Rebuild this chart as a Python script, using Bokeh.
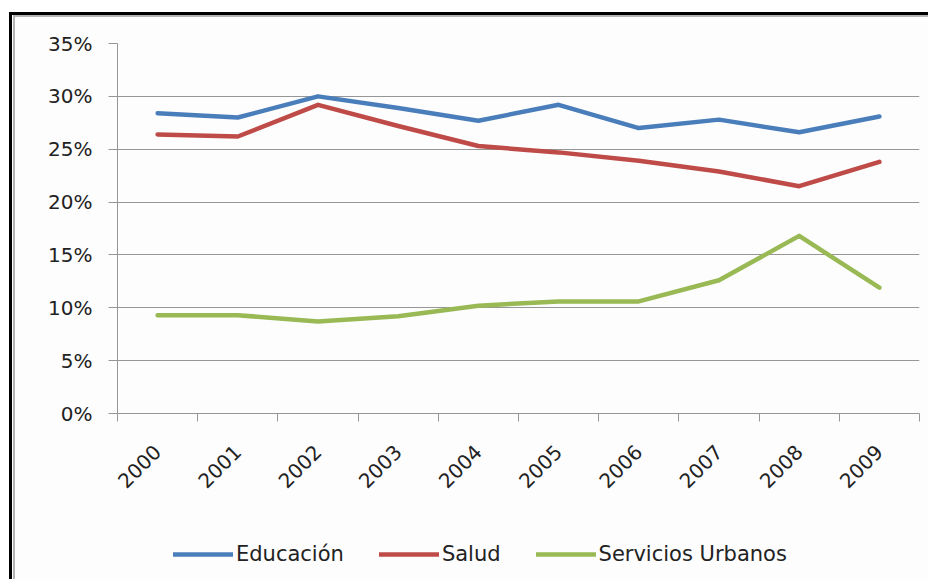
from bokeh.plotting import figure
from bokeh.models import (Range1d, FixedTicker, PrintfTickFormatter, Legend, LegendItem)
from bokeh.layouts import column
from bokeh.embed import file_html
from bokeh.resources import INLINE
import math

years = ["2000", "2001", "2002", "2003", "2004", "2005", "2006", "2007", "2008", "2009"]
educacion = [28.4, 28.0, 30.0, 28.9, 27.7, 29.2, 27.0, 27.8, 26.6, 28.1]
salud = [26.4, 26.2, 29.2, 27.2, 25.3, 24.7, 23.9, 22.9, 21.5, 23.8]
servicios = [9.3, 9.3, 8.7, 9.2, 10.2, 10.6, 10.6, 12.6, 16.8, 11.9]
series_names = ["Educación", "Salud", "Servicios Urbanos"]
series_colors = ["#4a7ebb", "#be4b48", "#98b954"]
y_ticks = [0, 5, 10, 15, 20, 25, 30, 35]

FONT = "DejaVu Sans"
TXT = "#222222"
GRID = "#969696"
BG = "#fdfdfd"

n = len(years)
xs = [i + 0.5 for i in range(n)]
all_series = [educacion, salud, servicios]

p = figure(width=928, height=503, output_backend="svg", toolbar_location=None,
           x_range=Range1d(0, n), y_range=Range1d(0, 35),
           min_border_left=117, min_border_right=9, min_border_top=43,
           min_border_bottom=90)
p.outline_line_color = None
p.background_fill_color = BG
p.border_fill_alpha = 0

for vals, c in zip(all_series, series_colors):
    p.line(xs, vals, line_color=c, line_width=4.5, line_join="round", line_cap="round")

# y axis
p.yaxis.ticker = FixedTicker(ticks=y_ticks)
p.yaxis.formatter = PrintfTickFormatter(format="%d%%")
p.yaxis.axis_line_color = GRID
p.yaxis.major_tick_line_color = GRID
p.yaxis.major_tick_out = 9
p.yaxis.major_tick_in = 0
p.yaxis.minor_tick_line_color = None
p.yaxis.major_label_standoff = 16
p.yaxis.major_label_text_font = FONT
p.yaxis.major_label_text_font_size = "20px"
p.yaxis.major_label_text_color = TXT

# x axis
p.xaxis.ticker = FixedTicker(ticks=xs, minor_ticks=list(range(n + 1)))
p.xaxis.major_label_overrides = {x: y for x, y in zip(xs, years)}
p.xaxis.axis_line_color = GRID
p.xaxis.major_tick_line_color = None
p.xaxis.major_tick_out = 0
p.xaxis.major_tick_in = 0
p.xaxis.minor_tick_line_color = GRID
p.xaxis.minor_tick_out = 8
p.xaxis.minor_tick_in = 0
p.xaxis.major_label_orientation = math.pi / 4
p.xaxis.major_label_standoff = 27
p.xaxis.major_label_text_font = FONT
p.xaxis.major_label_text_font_size = "20px"
p.xaxis.major_label_text_color = TXT

p.xgrid.grid_line_color = None
p.ygrid.ticker = FixedTicker(ticks=y_ticks)
p.ygrid.grid_line_color = GRID
p.ygrid.grid_line_width = 1

# legend strip (its own frame, series drawn out of view, used only for legend samples)
pl = figure(width=928, height=76, output_backend="svg", toolbar_location=None,
            x_range=Range1d(1000, 1001), y_range=Range1d(1000, 1001),
            min_border_left=0, min_border_right=0, min_border_top=0, min_border_bottom=0)
pl.axis.visible = False
pl.grid.visible = False
pl.outline_line_color = None
pl.background_fill_alpha = 0
pl.border_fill_alpha = 0
leg_renderers = [pl.line(xs, vals, line_color=c, line_width=4.5, line_cap="round")
                 for vals, c in zip(all_series, series_colors)]
legend = Legend(items=[LegendItem(label=nm, renderers=[r]) for nm, r in zip(series_names, leg_renderers)],
                orientation="horizontal", location=(56, 13),
                glyph_width=60, glyph_height=20, label_standoff=3, spacing=35,
                padding=0, margin=0, border_line_color=None, background_fill_alpha=0,
                label_text_font=FONT, label_text_font_size="21px", label_text_color=TXT)
pl.add_layout(legend, "center")

layout = column(p, pl, spacing=0,
                styles={"box-shadow": "inset 9px 12px 0 0 #ffffff, inset 12px 15px 0 0 #000000, "
                                      "inset 13px 15px 0 0 #fdfdfd, inset 15px 17px 0 0 #b4b4b4",
                        "background-color": BG})

open("out.html", "w").write(file_html(layout, INLINE))
